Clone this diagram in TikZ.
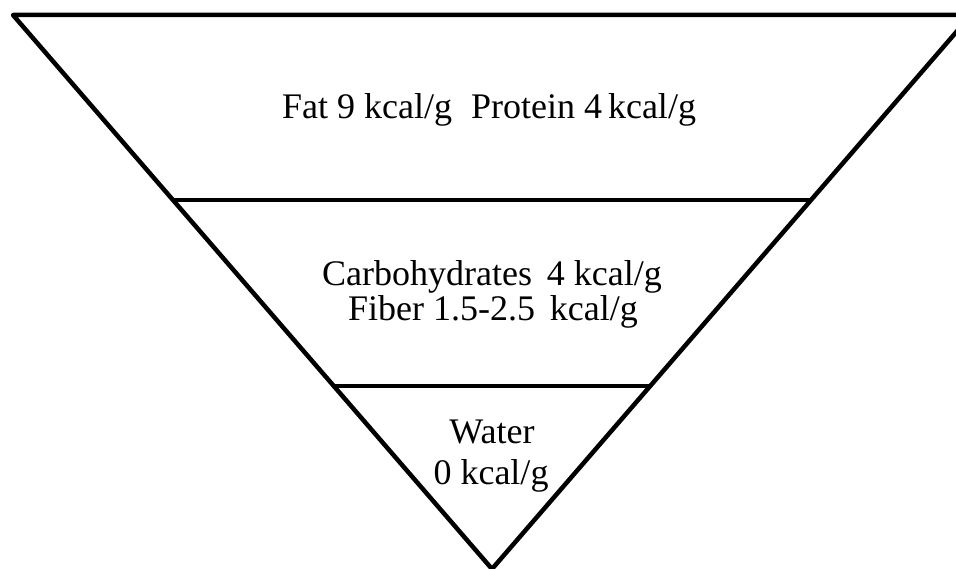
\documentclass[tikz,border=0pt]{standalone}
\usepackage{fontspec}
\setmainfont{Liberation Serif}
\begin{document}
\begin{tikzpicture}[x=1pt,y=-1pt,
  edge/.style={line width=4.5pt,black},
  lbl/.style={anchor=base,inner sep=0pt,font=\fontsize{36}{42}\selectfont}]
\useasboundingbox (0,0) rectangle (956,569);
\clip (0,0) rectangle (956,569);
\coordinate (tl) at (13,15);
\coordinate (tr) at (971,15);
\coordinate (ap) at (492,569);
\coordinate (al) at (172,200);
\coordinate (ar) at (812,200);
\coordinate (bl) at (334,386);
\coordinate (br) at (650,386);
\draw[edge,line join=round] (ap) -- (tl) -- (tr) -- cycle;
\draw[edge] (al) -- (ar);
\draw[edge] (bl) -- (br);
\node[lbl] (fat) at (489,119) {Fat 9 kcal/g\hspace{10pt} Protein 4\,kcal/g};
\node[lbl] (carb) at (492,286) {Carbohydrates\, 4 kcal/g};
\node[lbl] (fib) at (493,321) {Fiber 1.5-2.5\, kcal/g};
\node[lbl] (wat) at (492,443) {Water};
\node[lbl] (zero) at (491,484) {0 kcal/g};
\end{tikzpicture}
\end{document}
